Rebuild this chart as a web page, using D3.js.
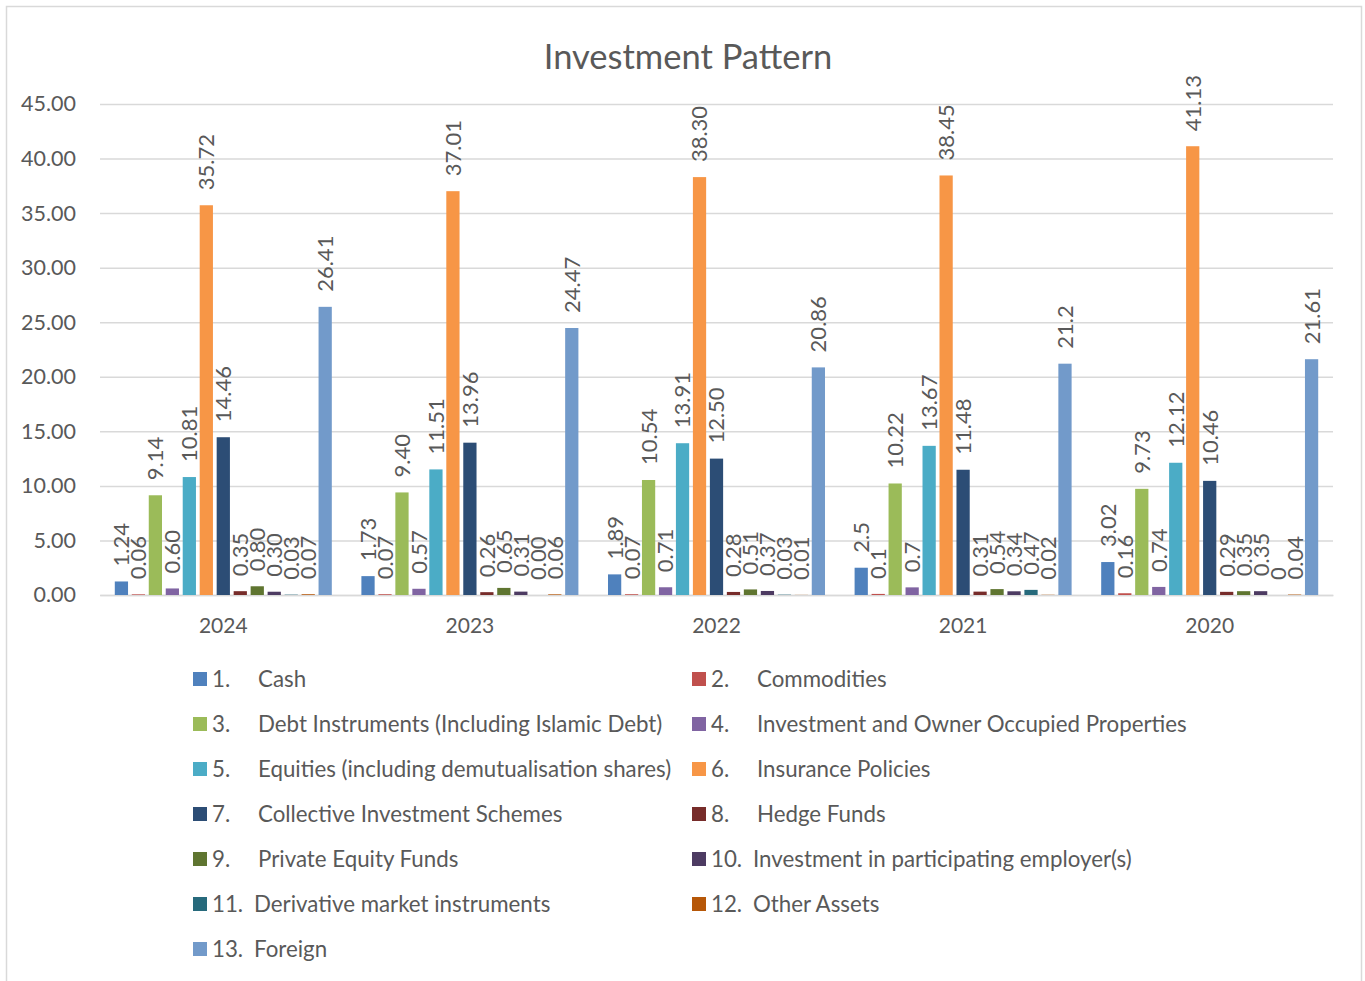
<!DOCTYPE html>
<html lang="en">
<head>
    <meta charset="UTF-8">
    <script src="https://d3js.org/d3.v7.min.js"></script>
    <title>Investment Pattern</title>
    <style>
        body { margin: 0; background: #fff; }
        text { font-family: Lato, "Open Sans", sans-serif; fill: #595959; }
    </style>
</head>
<body>
<div id="draw_here"></div>

<script type="text/javascript">

    // categories
    var years = ["2024", "2023", "2022", "2021", "2020"];
    // label decimals per year (null = as entered)
    var labelDecimals = [2, 2, 2, null, null];

    var seriesNums = ["1.", "2.", "3.", "4.", "5.", "6.", "7.", "8.", "9.", "10.", "11.", "12.", "13."];
    var seriesNames = [
        "Cash",
        "Commodities",
        "Debt Instruments (Including Islamic Debt)",
        "Investment and Owner Occupied Properties",
        "Equities (including demutualisation shares)",
        "Insurance Policies",
        "Collective Investment Schemes",
        "Hedge Funds",
        "Private Equity Funds",
        "Investment in participating employer(s)",
        "Derivative market instruments",
        "Other Assets",
        "Foreign"
    ];

    // series values, one per year
    var cash          = [1.24, 1.73, 1.89, 2.5, 3.02];
    var commodities   = [0.06, 0.07, 0.07, 0.1, 0.16];
    var debt          = [9.14, 9.40, 10.54, 10.22, 9.73];
    var property      = [0.60, 0.57, 0.71, 0.7, 0.74];
    var equities      = [10.81, 11.51, 13.91, 13.67, 12.12];
    var insurance     = [35.72, 37.01, 38.30, 38.45, 41.13];
    var cis           = [14.46, 13.96, 12.50, 11.48, 10.46];
    var hedge         = [0.35, 0.26, 0.28, 0.31, 0.29];
    var privateEquity = [0.80, 0.65, 0.51, 0.54, 0.35];
    var employer      = [0.30, 0.31, 0.37, 0.34, 0.35];
    var derivative    = [0.03, 0.00, 0.03, 0.47, 0];
    var otherAssets   = [0.07, 0.06, 0.01, 0.02, 0.04];
    var foreign       = [26.41, 24.47, 20.86, 21.2, 21.61];

    var yTicks = [0, 5, 10, 15, 20, 25, 30, 35, 40, 45];

    var colors = ["#4F81BD", "#C0504D", "#9BBB59", "#8064A2", "#4BACC6", "#F79646",
        "#2C4D75", "#772C2A", "#5F7530", "#4D3B62", "#276A7C", "#B65708", "#729ACA"];

    var allSeries = [cash, commodities, debt, property, equities, insurance, cis,
        hedge, privateEquity, employer, derivative, otherAssets, foreign];

    var width = 1365;
    var height = 981;
    var margin = {top: 104, right: 32, bottom: 386, left: 100};

    var svg = d3.select("#draw_here")
        .append("svg")
        .attr("width", width)
        .attr("height", height);

    // chart frame
    svg.append("rect")
        .attr("x", 6.5).attr("y", 6.5)
        .attr("width", 1355).attr("height", 980)
        .attr("fill", "none")
        .attr("stroke", "#d9d9d9")
        .attr("stroke-width", 1.5);

    svg.append("text")
        .attr("x", 688)
        .attr("y", 69)
        .attr("text-anchor", "middle")
        .style("font-size", "34.5px")
        .text("Investment Pattern");

    var x0 = d3.scaleBand()
        .domain(years)
        .range([margin.left, width - margin.right])
        .paddingInner(0.12)
        .paddingOuter(0.06);

    var x1 = d3.scaleBand()
        .domain(d3.range(seriesNames.length))
        .range([0, x0.bandwidth()])
        .paddingInner(0.22)
        .paddingOuter(0);

    var y = d3.scaleLinear()
        .domain([0, 45])
        .range([height - margin.bottom, margin.top]);

    // gridlines + y labels
    var yAxis = svg.append("g")
        .attr("transform", `translate(${margin.left},0)`)
        .call(d3.axisLeft(y).tickValues(yTicks).tickFormat(d => d.toFixed(2))
            .tickSize(-(width - margin.left - margin.right)).tickPadding(24));
    yAxis.select(".domain").remove();
    yAxis.selectAll(".tick line").attr("stroke", "#d9d9d9").attr("stroke-width", 1.5);
    yAxis.selectAll(".tick text").style("font-size", "21.5px").attr("fill", "#595959");

    // x axis
    var xAxis = svg.append("g")
        .attr("transform", `translate(0,${y(0)})`)
        .call(d3.axisBottom(x0).tickSize(0).tickPadding(23));
    xAxis.select(".domain").attr("stroke", "#d9d9d9").attr("stroke-width", 1.5);
    xAxis.selectAll(".tick text").style("font-size", "21px").attr("fill", "#595959");

    var rows = [];
    years.forEach((yr, i) => {
        allSeries.forEach((s, j) => {
            rows.push({year: yr, yi: i, si: j, value: s[i]});
        });
    });

    svg.append("g")
        .selectAll("rect")
        .data(rows)
        .join("rect")
        .attr("x", d => x0(d.year) + x1(d.si))
        .attr("y", d => y(d.value))
        .attr("width", x1.bandwidth())
        .attr("height", d => y(0) - y(d.value))
        .attr("fill", d => colors[d.si]);

    svg.append("g")
        .selectAll("text")
        .data(rows)
        .join("text")
        .attr("transform", d => `translate(${x0(d.year) + x1(d.si) + x1.bandwidth() / 2},${y(d.value) - 15}) rotate(-90)`)
        .attr("dy", "0.36em")
        .attr("text-anchor", "start")
        .style("font-size", "22px")
        .text(d => labelDecimals[d.yi] == null ? String(d.value) : d.value.toFixed(labelDecimals[d.yi]));

    // legend
    var legend = svg.append("g")
        .selectAll("g")
        .data(seriesNames)
        .join("g")
        .attr("transform", (d, i) => `translate(${i % 2 === 0 ? 193 : 692},${679 + Math.floor(i / 2) * 45})`);

    legend.append("rect")
        .attr("x", 0).attr("y", -7)
        .attr("width", 14).attr("height", 14)
        .attr("fill", (d, i) => colors[i]);

    legend.append("text")
        .attr("x", 19)
        .attr("dy", "0.36em")
        .style("font-size", "22.3px")
        .text((d, i) => seriesNums[i]);

    legend.append("text")
        .attr("x", (d, i) => i < 9 ? 65 : 61)
        .attr("dy", "0.36em")
        .style("font-size", "22.3px")
        .text(d => d);

</script>

</body>
</html>
